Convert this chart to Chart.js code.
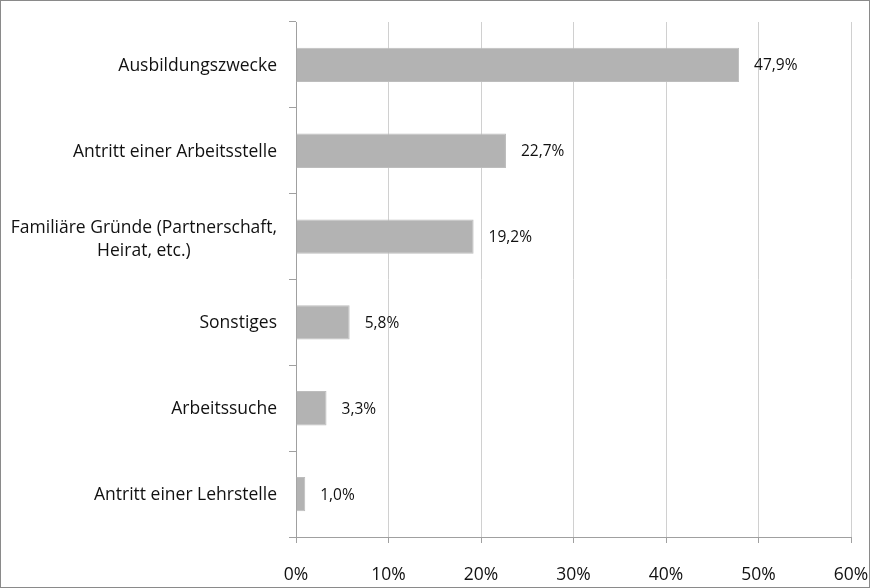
<!DOCTYPE html>
<html><head><meta charset="utf-8">
<script src="https://cdn.jsdelivr.net/npm/chart.js@4"></script>
<style>
html,body{margin:0;padding:0;background:#fff;}
#wrap{position:relative;width:868px;height:586px;border:1px solid #8a8a8a;}
</style></head>
<body><div id="wrap"><canvas id="c" width="868" height="586"></canvas></div>
<script>
const categories = [
  ["Ausbildungszwecke"],
  ["Antritt einer Arbeitsstelle"],
  ["Familiäre Gründe (Partnerschaft,", "Heirat, etc.)"],
  ["Sonstiges"],
  ["Arbeitssuche"],
  ["Antritt einer Lehrstelle"]
];
const values = [47.9, 22.7, 19.2, 5.8, 3.3, 1.0];
const valueLabels = ["47,9%", "22,7%", "19,2%", "5,8%", "3,3%", "1,0%"];
const xTicks = [0, 10, 20, 30, 40, 50, 60];

const FONT = "'Open Sans', 'Noto Sans', sans-serif";

const labelPlugin = {
  id: 'labels',
  afterDatasetsDraw(chart) {
    const ctx = chart.ctx;
    const meta = chart.getDatasetMeta(0);
    const y = chart.scales.y;
    ctx.save();
    ctx.fillStyle = '#111';
    ctx.textBaseline = 'middle';
    // value labels
    ctx.font = "15.5px " + FONT;
    ctx.textAlign = 'left';
    meta.data.forEach((bar, i) => {
      ctx.fillText(valueLabels[i], bar.x + 15, bar.y + 1);
    });
    // category labels
    ctx.font = "17.5px " + FONT;
    const rightX = y.right - 19;
    categories.forEach((lines, i) => {
      const cy = y.getPixelForValue(i) + (lines.length > 1 ? 3 : 1);
      const lh = 23;
      const widths = lines.map(l => ctx.measureText(l).width);
      const maxW = Math.max(...widths);
      const centerX = rightX - maxW / 2;
      ctx.textAlign = 'center';
      lines.forEach((l, k) => {
        const ly = cy + (k - (lines.length - 1) / 2) * lh;
        ctx.fillText(l, lines.length > 1 ? centerX : rightX - widths[k] / 2, ly);
      });
    });
    ctx.restore();
  }
};

new Chart(document.getElementById('c'), {
  type: 'bar',
  data: {
    labels: categories,
    datasets: [{
      data: values,
      backgroundColor: '#b3b3b3',
      borderColor: '#bdbdbd',
      borderWidth: 1,
      barPercentage: 0.4,
      categoryPercentage: 1.0
    }]
  },
  options: {
    indexAxis: 'y',
    responsive: false,
    animation: false,
    layout: { padding: { top: 21, right: 0, bottom: 0, left: 0 } },
    plugins: { legend: { display: false }, tooltip: { enabled: false } },
    scales: {
      x: {
        min: 0, max: 60,
        afterBuildTicks(scale) { scale.ticks = xTicks.map(v => ({ value: v })); },
        grid: { color: '#d0d0d0', lineWidth: 1, tickLength: 6, drawTicks: true, tickColor: '#a0a0a0' },
        border: { color: '#a0a0a0', width: 1 },
        ticks: {
          callback: v => v + '%',
          color: '#111',
          font: { family: FONT, size: 17.5 },
          padding: 22,
          maxRotation: 0
        },
        afterFit(scale) { scale.height = 50; scale.paddingRight = 18; scale.paddingLeft = 0; }
      },
      y: {
        grid: { display: true, drawOnChartArea: false, offset: true, tickLength: 7, color: '#a0a0a0' },
        border: { color: '#a0a0a0', width: 1 },
        ticks: { display: false },
        afterFit(scale) { scale.width = 295; }
      }
    }
  },
  plugins: [labelPlugin]
});
</script></body></html>
